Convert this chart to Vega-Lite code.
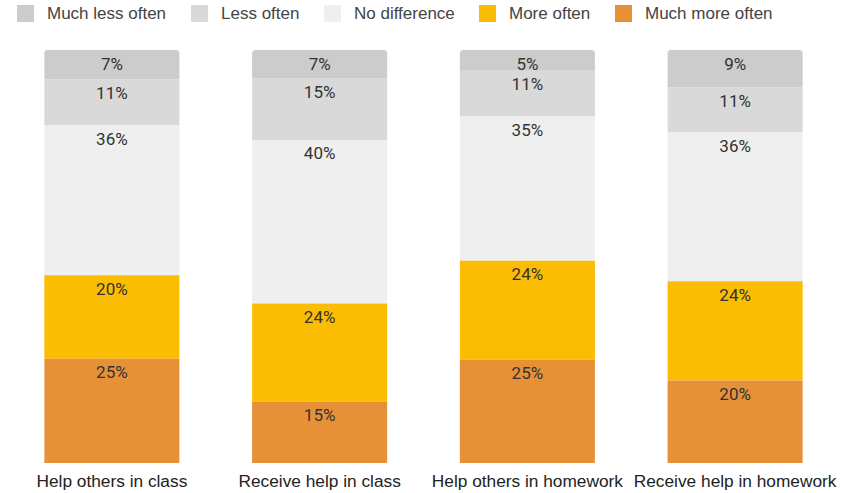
{
  "$schema": "https://vega.github.io/schema/vega-lite/v6.json",
  "autosize": {"type": "none"},
  "width": 831,
  "height": 413,
  "padding": {"left": 8, "top": 50, "right": 17, "bottom": 30},
  "background": "white",
  "config": {"view": {"stroke": null}},
  "data": {"values": [
    {"cat": "Help others in class", "resp": "Much less often", "ord": 4, "v": 0.07},
    {"cat": "Help others in class", "resp": "Less often", "ord": 3, "v": 0.11},
    {"cat": "Help others in class", "resp": "No difference", "ord": 2, "v": 0.36},
    {"cat": "Help others in class", "resp": "More often", "ord": 1, "v": 0.20},
    {"cat": "Help others in class", "resp": "Much more often", "ord": 0, "v": 0.25},
    {"cat": "Receive help in class", "resp": "Much less often", "ord": 4, "v": 0.07},
    {"cat": "Receive help in class", "resp": "Less often", "ord": 3, "v": 0.15},
    {"cat": "Receive help in class", "resp": "No difference", "ord": 2, "v": 0.40},
    {"cat": "Receive help in class", "resp": "More often", "ord": 1, "v": 0.24},
    {"cat": "Receive help in class", "resp": "Much more often", "ord": 0, "v": 0.15},
    {"cat": "Help others in homework", "resp": "Much less often", "ord": 4, "v": 0.05},
    {"cat": "Help others in homework", "resp": "Less often", "ord": 3, "v": 0.11},
    {"cat": "Help others in homework", "resp": "No difference", "ord": 2, "v": 0.35},
    {"cat": "Help others in homework", "resp": "More often", "ord": 1, "v": 0.24},
    {"cat": "Help others in homework", "resp": "Much more often", "ord": 0, "v": 0.25},
    {"cat": "Receive help in homework", "resp": "Much less often", "ord": 4, "v": 0.09},
    {"cat": "Receive help in homework", "resp": "Less often", "ord": 3, "v": 0.11},
    {"cat": "Receive help in homework", "resp": "No difference", "ord": 2, "v": 0.36},
    {"cat": "Receive help in homework", "resp": "More often", "ord": 1, "v": 0.24},
    {"cat": "Receive help in homework", "resp": "Much more often", "ord": 0, "v": 0.20}
  ]},
  "transform": [
    {"stack": "v", "groupby": ["cat"], "sort": [{"field": "ord", "order": "ascending"}], "as": ["v0", "v1"], "offset": "normalize"}
  ],
  "encoding": {
    "x": {
      "field": "cat", "type": "nominal", "sort": null,
      "scale": {"paddingInner": 0.35, "paddingOuter": 0.175},
      "axis": {"title": null, "labelAngle": 0, "ticks": false, "domain": false, "labelPadding": 9, "labelLimit": 0,
               "labelFont": "Liberation Sans", "labelFontSize": 17.3, "labelColor": "#222222"}
    }
  },
  "layer": [
    {
      "transform": [{"filter": "datum.ord < 4"}],
      "mark": {"type": "bar"},
      "encoding": {
        "y": {"field": "v0", "type": "quantitative", "scale": {"domain": [0, 1]}, "axis": null},
        "y2": {"field": "v1"},
        "color": {
          "field": "resp", "type": "nominal",
          "scale": {
            "domain": ["Much less often", "Less often", "No difference", "More often", "Much more often"],
            "range": ["#cccccc", "#d9d9d9", "#efefef", "#fbbc04", "#e69138"]
          },
          "legend": {
            "title": null, "orient": "none", "direction": "horizontal", "legendX": 9, "legendY": -45,
            "symbolType": "square", "symbolSize": 289, "symbolStrokeWidth": 0, "labelOffset": 13, "columnPadding": 24,
            "labelFont": "Liberation Sans", "labelFontSize": 17, "labelColor": "#444444", "padding": 0, "labelLimit": 0
          }
        }
      }
    },
    {
      "transform": [{"filter": "datum.ord == 4"}],
      "mark": {"type": "bar", "cornerRadiusTopLeft": 3, "cornerRadiusTopRight": 3},
      "encoding": {
        "y": {"field": "v0", "type": "quantitative", "scale": {"domain": [0, 1]}, "axis": null},
        "y2": {"field": "v1"},
        "color": {"field": "resp", "type": "nominal"}
      }
    },
    {
      "mark": {"type": "text", "baseline": "middle", "dy": 14.5, "font": "Roboto", "fontSize": 17, "color": "#333333"},
      "encoding": {
        "y": {"field": "v1", "type": "quantitative", "scale": {"domain": [0, 1]}},
        "text": {"field": "v", "type": "quantitative", "format": ".0%"}
      }
    }
  ]
}
